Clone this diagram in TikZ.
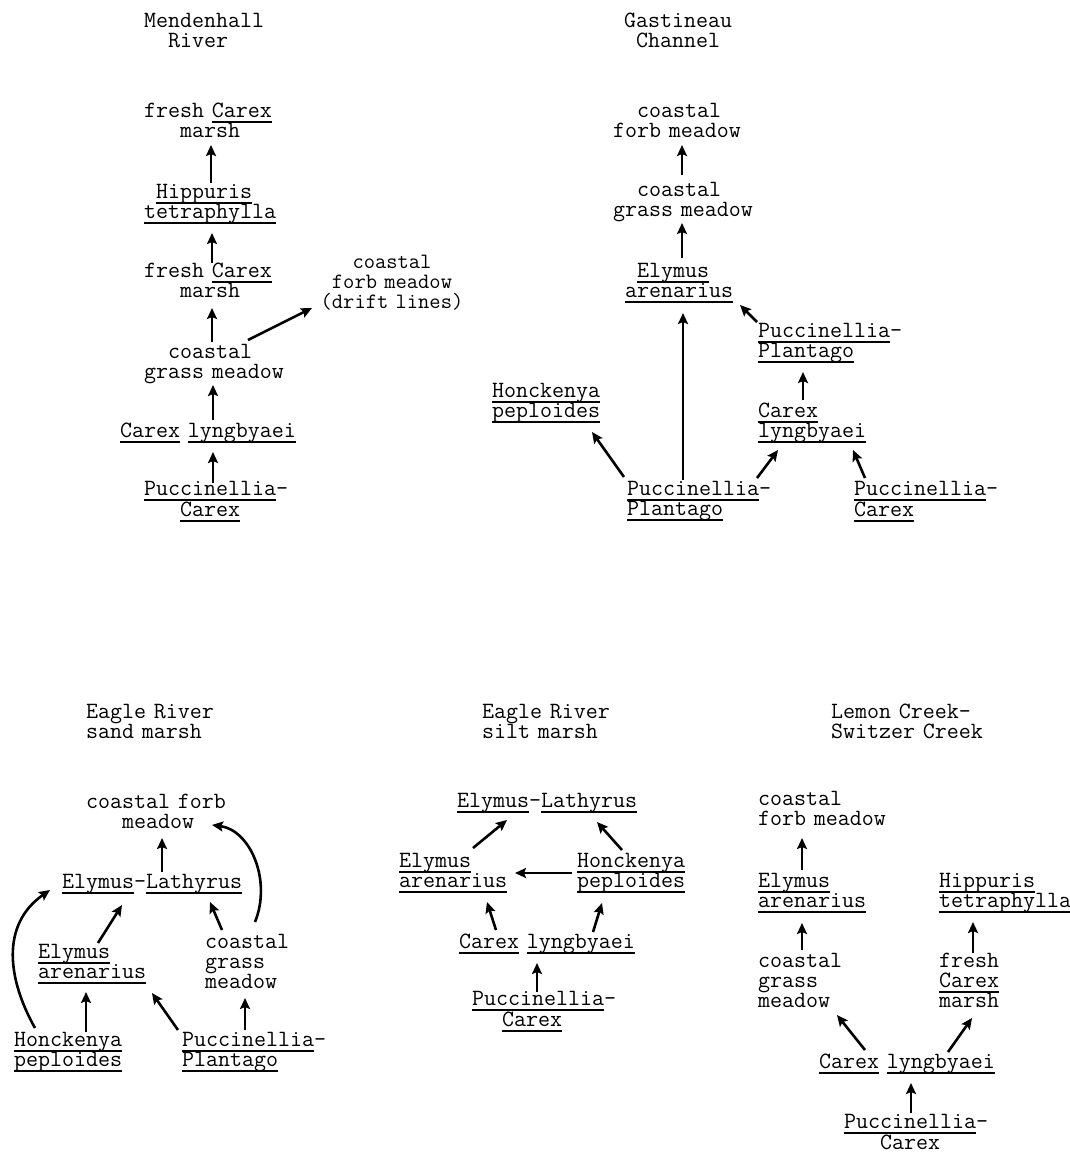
\documentclass[tikz,border=0pt]{standalone}
\usetikzlibrary{calc,arrows.meta}

% typewriter size giving a 12pt pitch
\newlength{\chw}
\newdimen\ttsz
\newdimen\ttszs
\AtBeginDocument{%
  \settowidth{\chw}{\fontsize{20}{20}\selectfont\ttfamily M}%
  \ttsz=\dimexpr 20pt*786432/\number\chw\relax
  \ttszs=\dimexpr \ttsz*94/100\relax}
\newcommand{\tw}{\fontsize{\the\ttsz}{20pt}\selectfont\ttfamily}
\newcommand{\tws}{\fontsize{\the\ttszs}{20pt}\selectfont\ttfamily}
% underlined genus name
\newcommand{\gn}[1]{\leavevmode\setbox0=\hbox{#1}\rlap{\rule[-5.6pt]{\wd0}{1.3pt}}\box0\relax}
\newcommand{\ind}[1]{\hspace*{#1pt}}

\begin{document}
\begin{tikzpicture}[x=1pt, y=-1pt, >={Stealth[length=11pt,width=10pt,inset=2pt]},
    every node/.style={inner sep=0pt, font=\tw, text width=200pt, align=left, anchor=base west},
    arr/.style={->, line width=2.6pt}]
    \useasboundingbox (0,0) rectangle (1070,1152);

    % Mendenhall River
    \node (mtitle) at (144,27) {Mendenhall\\\ind{24}River};
    \node (m1) at (144,117) {fresh \gn{Carex}\\\ind{36}marsh};
    \node (m2) at (144,198) {\ind{12}\gn{Hippuris}\\\gn{tetraphylla}};
    \node (m3) at (144,277) {fresh \gn{Carex}\\\ind{36}marsh};
    \node (m4) at (144,358) {\ind{24}coastal\\grass meadow};
    \node (m5) at (120,437) {\gn{Carex} \gn{lyngbyaei}};
    \node (m6) at (144,495) {\gn{Puccinellia}-\\\ind{36}\gn{Carex}};
    \node[font=\tws, align=center, anchor=base] (m7) at (392,268) {coastal\\forb meadow\\(drift lines)};

    \draw[arr] ($(m2.base west)+(67,-15)$) -- ($(m1.base west)+(67,28)$);
    \draw[arr] ($(m3.base west)+(68,-14)$) -- ($(m2.base west)+(68,35)$);
    \draw[arr] ($(m4.base west)+(68,-16)$) -- ($(m3.base west)+(68,31)$);
    \draw[arr] ($(m5.base west)+(93,-17)$) -- ($(m4.base west)+(69,27)$);
    \draw[arr] ($(m6.base west)+(69,-12)$) -- ($(m5.base west)+(93,15)$);
    \draw[arr] ($(m4.base west)+(104,-18)$) -- ($(m7.base)+(-80,40)$);

    % Gastineau Channel
    \node (gtitle) at (624,27) {Gastineau\\\ind{12}Channel};
    \node (g1) at (613,117) {\ind{24}coastal\\forb meadow};
    \node (g2) at (613,196) {\ind{24}coastal\\grass meadow};
    \node (g3) at (625,277) {\ind{12}\gn{Elymus}\\\gn{arenarius}};
    \node (g4) at (758,337) {\gn{Puccinellia}-\\\gn{Plantago}};
    \node (g5) at (758,417) {\gn{Carex}\\\gn{lyngbyaei}};
    \node (g6) at (492,397) {\gn{Honckenya}\\\gn{peploides}};
    \node (g7) at (627,495) {\gn{Puccinellia}-\\\gn{Plantago}};
    \node (g8) at (854,495) {\gn{Puccinellia}-\\\gn{Carex}};

    \draw[arr] ($(g2.base west)+(69,-21)$) -- ($(g1.base west)+(69,28)$);
    \draw[arr] ($(g3.base west)+(57,-19)$) -- ($(g2.base west)+(69,27)$);
    \draw[arr] ($(g7.base west)+(56,-15)$) -- ($(g3.base west)+(58,36)$);
    \draw[arr] ($(g4.base west)+(-1,-15)$) -- ($(g3.base west)+(115,28)$);
    \draw[arr] ($(g5.base west)+(45,-17)$) -- ($(g4.base west)+(45,35)$);
    \draw[arr] ($(g7.base west)+(-3,-18)$) -- ($(g6.base west)+(100,35)$);
    \draw[arr] ($(g7.base west)+(130,-17)$) -- ($(g5.base west)+(20,33)$);
    \draw[arr] ($(g8.base west)+(11,-17)$) -- ($(g5.base west)+(95,33)$);

    % Eagle River sand marsh
    \node (etitle) at (86,718) {Eagle River\\sand marsh};
    \node (e1) at (86,808) {coastal forb\\\ind{36}meadow};
    \node (e2) at (62,888) {\gn{Elymus}-\gn{Lathyrus}};
    \node (e3) at (38,958) {\gn{Elymus}\\\gn{arenarius}};
    \node (e4) at (205,948) {coastal\\grass\\meadow};
    \node (e5) at (14,1046) {\gn{Honckenya}\\\gn{peploides}};
    \node (e6) at (182,1046) {\gn{Puccinellia}-\\\gn{Plantago}};

    \draw[arr] ($(e2.base west)+(100,-16)$) -- ($(e1.base west)+(76,30)$);
    \draw[arr] ($(e5.base west)+(21,-18)$) .. controls +(-27,-48) and +(-50,35) .. ($(e2.base west)+(-12,2)$);
    \draw[arr] ($(e3.base west)+(60,-15)$) -- ($(e2.base west)+(60,17)$);
    \draw[arr] ($(e4.base west)+(17,-18)$) -- ($(e2.base west)+(148,14)$);
    \draw[arr] ($(e4.base west)+(50,-26)$) .. controls +(17,-42) and +(38,5) .. ($(e1.base west)+(126,17)$);
    \draw[arr] ($(e5.base west)+(72,-14)$) -- ($(e3.base west)+(48,34)$);
    \draw[arr] ($(e6.base west)+(-4,-16)$) -- ($(e3.base west)+(114,35)$);
    \draw[arr] ($(e6.base west)+(63,-16)$) -- ($(e4.base west)+(40,50)$);

    % Eagle River silt marsh
    \node (stitle) at (482,718) {Eagle River\\silt marsh};
    \node (s1) at (457,807) {\gn{Elymus}-\gn{Lathyrus}};
    \node (s2) at (399,867) {\gn{Elymus}\\\gn{arenarius}};
    \node (s3) at (577,867) {\gn{Honckenya}\\\gn{peploides}};
    \node (s4) at (459,948) {\gn{Carex} \gn{lyngbyaei}};
    \node (s5) at (472,1005) {\gn{Puccinellia}-\\\ind{30}\gn{Carex}};

    \draw[arr] ($(s2.base west)+(74,-19)$) -- ($(s1.base west)+(50,13)$);
    \draw[arr] ($(s3.base west)+(45,-17)$) -- ($(s1.base west)+(140,15)$);
    \draw[arr] ($(s3.base west)+(-5,6)$) -- ($(s2.base west)+(116,6)$);
    \draw[arr] ($(s4.base west)+(37,-18)$) -- ($(s2.base west)+(88,35)$);
    \draw[arr] ($(s4.base west)+(134,-16)$) -- ($(s3.base west)+(25,36)$);
    \draw[arr] ($(s5.base west)+(65,-13)$) -- ($(s4.base west)+(78,15)$);

    % Lemon Creek-Switzer Creek
    \node (ltitle) at (831,718) {Lemon Creek-\\Switzer Creek};
    \node (l1) at (758,805) {coastal\\forb meadow};
    \node (l2) at (758,887) {\gn{Elymus}\\\gn{arenarius}};
    \node (l3) at (939,887) {\gn{Hippuris}\\\gn{tetraphylla}};
    \node (l4) at (758,967) {coastal\\grass\\meadow};
    \node (l5) at (939,967) {fresh\\\gn{Carex}\\marsh};
    \node (l6) at (819,1068) {\gn{Carex} \gn{lyngbyaei}};
    \node (l7) at (844,1128) {\gn{Puccinellia}-\\\ind{36}\gn{Carex}};

    \draw[arr] ($(l2.base west)+(44,-17)$) -- ($(l1.base west)+(44,33)$);
    \draw[arr] ($(l4.base west)+(44,-17)$) -- ($(l2.base west)+(44,36)$);
    \draw[arr] ($(l5.base west)+(34,-14)$) -- ($(l3.base west)+(34,35)$);
    \draw[arr] ($(l6.base west)+(46,-18)$) -- ($(l4.base west)+(79,48)$);
    \draw[arr] ($(l6.base west)+(129,-16)$) -- ($(l5.base west)+(33,51)$);
    \draw[arr] ($(l7.base west)+(67,-15)$) -- ($(l6.base west)+(92,15)$);
\end{tikzpicture}
\end{document}
